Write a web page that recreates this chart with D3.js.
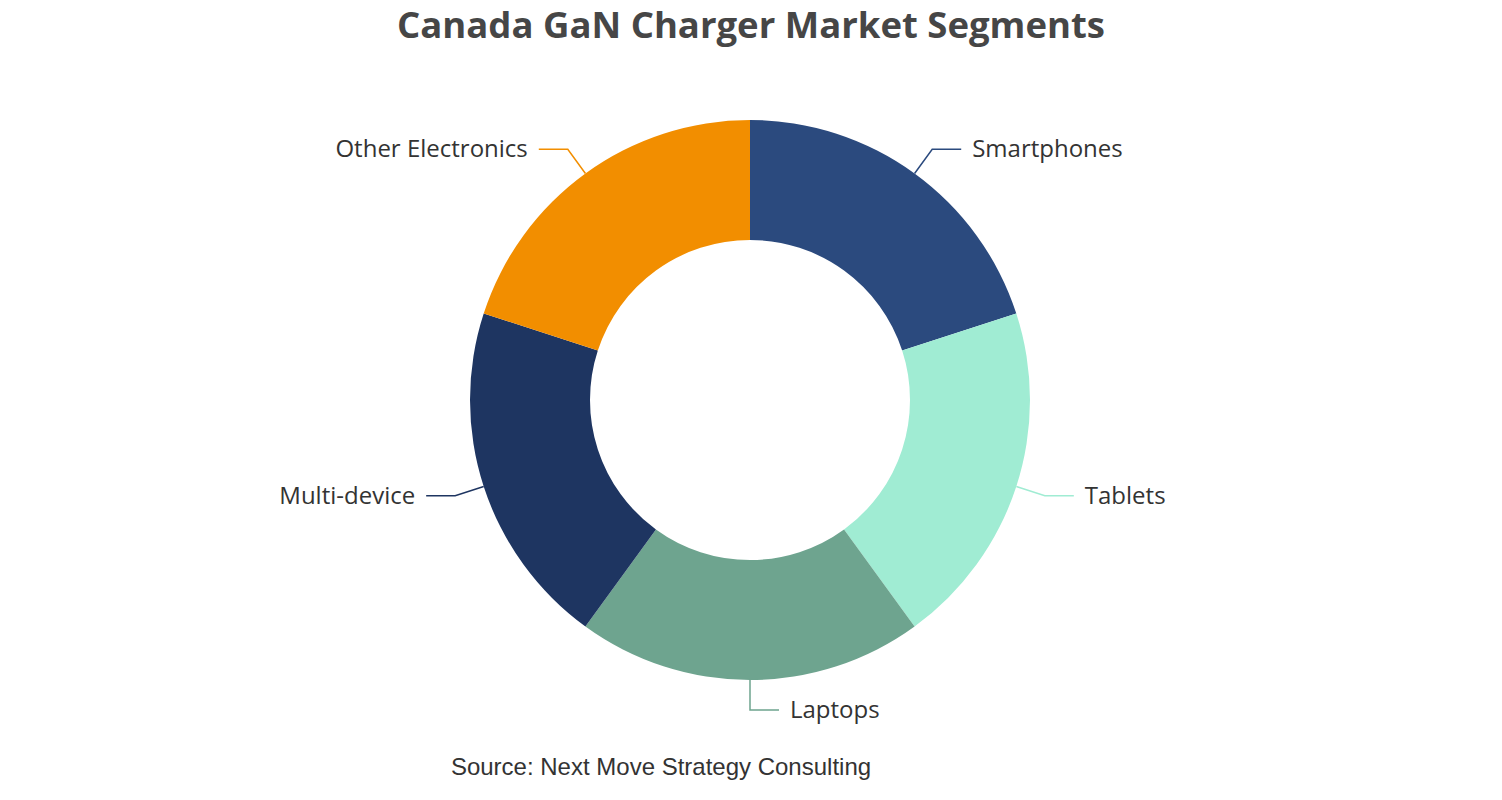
<!DOCTYPE html>
<html><head><meta charset="utf-8">
<script src="https://cdn.jsdelivr.net/npm/d3@7/dist/d3.min.js"></script>
<style>body{margin:0;background:#fff}svg{display:block}</style>
</head><body>
<script>
const categories = ["Smartphones","Tablets","Laptops","Multi-device","Other Electronics"];
const values = [20,20,20,20,20];
const colors = ["#2b4a7e","#a0ecd3","#6ea48f","#1e3561","#f28e00"];
const titleText = "Canada GaN Charger Market Segments";
const sourceText = "Source: Next Move Strategy Consulting";

const W=1502,H=800,cx=750,cy=400,rOut=280,rIn=160;
const svg=d3.select("body").append("svg").attr("width",W).attr("height",H);
svg.append("text").attr("x",751).attr("y",38).attr("text-anchor","middle")
  .attr("font-family","Open Sans, sans-serif").attr("font-weight","bold").attr("font-size",36.5)
  .attr("fill","#464646").text(titleText);

const data=categories.map((c,i)=>({name:c,value:values[i],color:colors[i]}));
const pie=d3.pie().value(d=>d.value).sort(null);
const arcs=pie(data);
const arc=d3.arc().innerRadius(rIn).outerRadius(rOut);
const g=svg.append("g").attr("transform",`translate(${cx},${cy})`);
g.selectAll("path").data(arcs).join("path").attr("d",arc).attr("fill",d=>d.data.color);

const pt=(a,r)=>[Math.sin(a)*r,-Math.cos(a)*r];
arcs.forEach(d=>{
  const a=(d.startAngle+d.endAngle)/2;
  const p0=pt(a,rOut), p1=pt(a,rOut+30);
  const dir = Math.sin(a) < -1e-6 ? -1 : 1;
  const p2=[p1[0]+dir*29,p1[1]];
  g.append("polyline").attr("points",[p0,p1,p2].map(p=>p.join(",")).join(" "))
    .attr("fill","none").attr("stroke",d.data.color).attr("stroke-width",1.5);
  g.append("text").attr("x",p2[0]+dir*11).attr("y",p2[1]).attr("dy","0.33em")
    .attr("text-anchor",dir>0?"start":"end")
    .attr("font-family","Open Sans, sans-serif").attr("font-size",24).attr("fill","#333")
    .text(d.data.name);
});

svg.append("text").attr("x",661).attr("y",775).attr("text-anchor","middle")
  .attr("font-family","Liberation Sans, Arial, sans-serif").attr("font-size",24).attr("fill","#333")
  .text(sourceText);
</script>
</body></html>
